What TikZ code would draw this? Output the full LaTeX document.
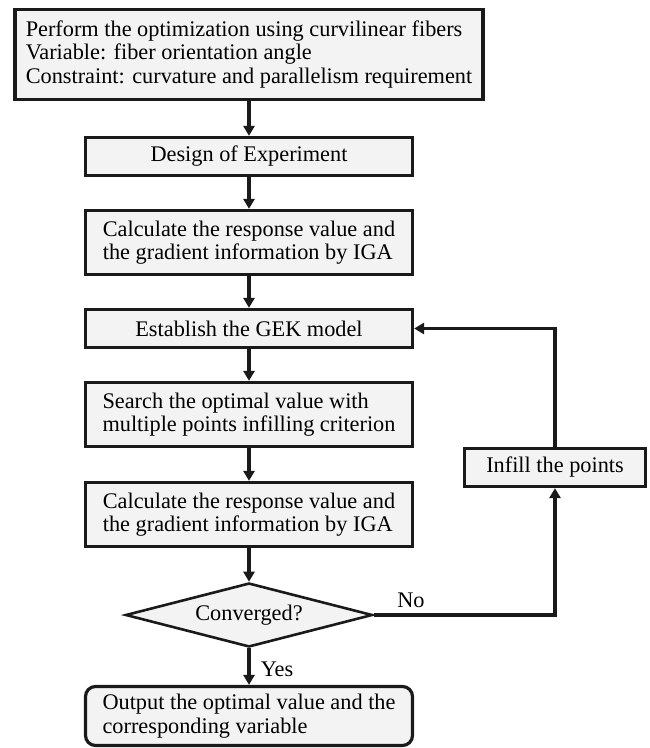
\documentclass[tikz,border=0pt]{standalone}
\usepackage{fontspec}
\setmainfont{Liberation Serif}
\usetikzlibrary{shapes.geometric,arrows.meta}
\definecolor{boxfill}{HTML}{F3F3F3}
\definecolor{ink}{HTML}{1A1A1A}
\newcommand\figfont{\fontsize{22.3}{23.5}\selectfont}
\tikzset{
  box/.style={draw=ink, fill=boxfill, line width=3.2pt, align=left, inner sep=0pt, font=\figfont},
  decision/.style={diamond, aspect=3.86, draw=ink, fill=boxfill, line width=2.6pt, inner sep=0pt, font=\figfont},
  lbl/.style={inner sep=0pt, font=\figfont},
  arr/.style={draw=ink, line width=3.2pt, -{Triangle[length=10pt,width=11pt]}},
}
\begin{document}
\begin{tikzpicture}[x=1pt,y=-1pt]
\useasboundingbox (0,0) rectangle (649,748);
\node[box, minimum width=468, minimum height=90] (b1) at (249,54.5)
  {Perform the optimization using curvilinear fibers\\Variable: fiber orientation angle\\Constraint: curvature and parallelism requirement};
\node[box, minimum width=327, minimum height=38] (b2) at (249,156.5) {Design of Experiment};
\node[box, minimum width=327, minimum height=64] (b3) at (249,242.5)
  {Calculate the response value and\\the gradient information by IGA};
\node[box, minimum width=327, minimum height=38] (b4) at (249,328.5) {Establish the GEK model};
\node[box, minimum width=327, minimum height=64] (b5) at (249,414.5)
  {Search the optimal value with\\multiple points infilling criterion};
\node[box, minimum width=327, minimum height=64] (b6) at (249,514.5)
  {Calculate the response value and\\the gradient information by IGA};
\node[decision, minimum width=247, minimum height=64] (dia) at (249,615) {Converged?};
\node[box, rounded corners=10pt, minimum width=327, minimum height=59] (out) at (249,716)
  {Output the optimal value and the\\corresponding variable};
\node[box, minimum width=181, minimum height=38] (inf) at (555,467.5) {Infill the points};
\coordinate (c1) at (555,615);
\coordinate (c2) at (555,328.5);

\draw[arr] (b1) -- (b2);
\draw[arr] (b2) -- (b3);
\draw[arr] (b3) -- (b4);
\draw[arr] (b4) -- (b5);
\draw[arr] (b5) -- (b6);
\draw[arr] (b6) -- (dia);
\draw[arr] (dia) -- (out);
\draw[arr] (dia.east) -- (c1) -- (inf.south);
\draw[arr] (inf.north) -- (c2) -- (b4.east);
\node[lbl] (no) at (411,600) {No};
\node[lbl] (yes) at (277,669) {Yes};
\end{tikzpicture}
\end{document}
